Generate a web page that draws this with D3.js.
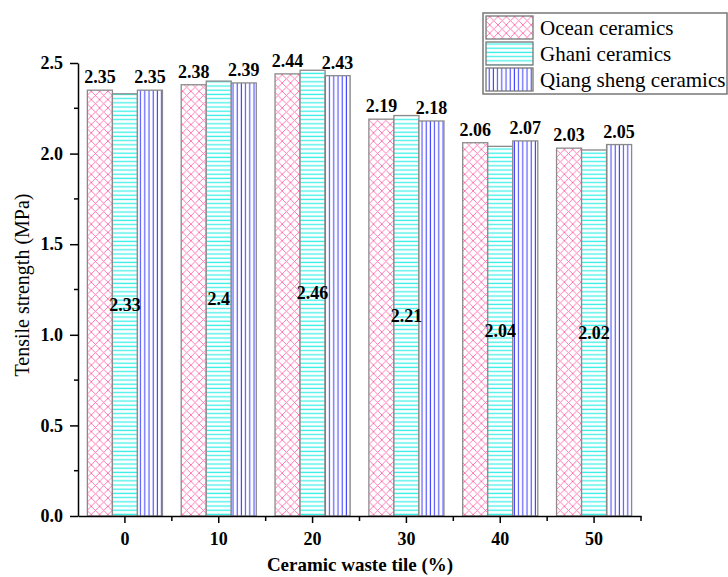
<!DOCTYPE html>
<html>
<head>
<meta charset="utf-8">
<script src="https://cdn.jsdelivr.net/npm/d3@7"></script>
<style>
    body { margin: 0; background: white; }
</style>
</head>
<body>
<svg id="chart" width="728" height="577"></svg>
<script>
const categories = ["0", "10", "20", "30", "40", "50"];
const seriesNames = ["Ocean ceramics", "Ghani ceramics", "Qiang sheng ceramics"];
const oceanValues = [2.35, 2.38, 2.44, 2.19, 2.06, 2.03];
const ghaniValues = [2.33, 2.4, 2.46, 2.21, 2.04, 2.02];
const qiangValues = [2.35, 2.39, 2.43, 2.18, 2.07, 2.05];
const yTicks = [0, 0.5, 1.0, 1.5, 2.0, 2.5];
const yMinorTicks = [0.25, 0.75, 1.25, 1.75, 2.25];

const allSeries = [oceanValues, ghaniValues, qiangValues];
const patternIds = ["pOcean", "pGhani", "pQiang"];
const serif = "'Liberation Serif', 'Times New Roman', serif";

const svg = d3.select("#chart");
const defs = svg.append("defs");

// hatch patterns
const pOcean = defs.append("pattern").attr("id", "pOcean")
    .attr("patternUnits", "userSpaceOnUse").attr("width", 8.3).attr("height", 8.3);
pOcean.append("rect").attr("width", 8.3).attr("height", 8.3).attr("fill", "white");
pOcean.append("path").attr("d", "M0,0L8.3,8.3M0,8.3L8.3,0")
    .attr("stroke", "#ff6aae").attr("stroke-width", 0.9);

const pGhani = defs.append("pattern").attr("id", "pGhani")
    .attr("patternUnits", "userSpaceOnUse").attr("width", 4.2).attr("height", 4.2);
pGhani.append("rect").attr("width", 4.2).attr("height", 4.2).attr("fill", "white");
pGhani.append("line").attr("x1", 0).attr("x2", 4.2).attr("y1", 2).attr("y2", 2)
    .attr("stroke", "#3ef0e8").attr("stroke-width", 1.3);

const pQiang = defs.append("pattern").attr("id", "pQiang")
    .attr("patternUnits", "userSpaceOnUse").attr("width", 4.2).attr("height", 4.2);
pQiang.append("rect").attr("width", 4.2).attr("height", 4.2).attr("fill", "white");
pQiang.append("line").attr("x1", 2).attr("x2", 2).attr("y1", 0).attr("y2", 4.2)
    .attr("stroke", "#4848ff").attr("stroke-width", 1.1);

const x = d3.scaleBand().domain(categories).range([78, 641]).padding(0);
const bw = x.bandwidth();
const xInner = d3.scaleBand().domain(d3.range(3)).range([bw * 0.1, bw * 0.9]).padding(0);
const y = d3.scaleLinear().domain([0, 2.5]).range([516, 63]);

// bars
allSeries.forEach((vals, s) => {
    svg.append("g")
        .selectAll("rect")
        .data(vals)
        .enter()
        .append("rect")
        .attr("x", (d, i) => x(categories[i]) + xInner(s))
        .attr("y", (d) => y(d))
        .attr("width", xInner.bandwidth())
        .attr("height", (d) => y(0) - y(d))
        .attr("fill", "url(#" + patternIds[s] + ")")
        .attr("stroke", "#8a8a8a")
        .attr("stroke-width", 1.3);
});

// value labels: ocean and qiang above the bar, ghani in middle
allSeries.forEach((vals, s) => {
    svg.append("g")
        .selectAll("text")
        .data(vals)
        .enter()
        .append("text")
        .text((d) => d)
        .attr("x", (d, i) => x(categories[i]) + xInner(s) + xInner.bandwidth() / 2)
        .attr("y", (d) => s == 1 ? (y(d) + y(0)) / 2 : y(d) - 7)
        .attr("dy", s == 1 ? "0.35em" : 0)
        .attr("font-family", serif)
        .attr("font-size", 18)
        .attr("font-weight", "bold")
        .attr("text-anchor", "middle")
        .attr("fill", "black");
});

// y axis
const yAxis = svg.append("g")
    .attr("transform", "translate(78,0)")
    .call(d3.axisLeft(y).tickValues(yTicks).tickFormat(d3.format(".1f")).tickSize(8).tickSizeOuter(0).tickPadding(7));
yAxis.attr("font-family", serif).attr("font-size", 18).attr("font-weight", "bold");
yAxis.select(".domain").attr("stroke-width", 1.5);
yAxis.selectAll(".tick line").attr("stroke-width", 1.5);
svg.append("g")
    .selectAll("line")
    .data(yMinorTicks)
    .enter()
    .append("line")
    .attr("x1", 74).attr("x2", 78)
    .attr("y1", (d) => y(d)).attr("y2", (d) => y(d))
    .attr("stroke", "black").attr("stroke-width", 1.5);

// x axis
const xAxis = svg.append("g")
    .attr("transform", "translate(0,516)")
    .call(d3.axisBottom(x).tickSize(7).tickSizeOuter(0).tickPadding(9));
xAxis.attr("font-family", serif).attr("font-size", 18).attr("font-weight", "bold");
xAxis.select(".domain").attr("stroke-width", 1.5);
xAxis.selectAll(".tick line").attr("stroke-width", 1.5);
svg.append("g")
    .selectAll("line")
    .data(categories)
    .enter()
    .append("line")
    .attr("x1", (d) => x(d) + bw).attr("x2", (d) => x(d) + bw)
    .attr("y1", 516).attr("y2", 521)
    .attr("stroke", "black").attr("stroke-width", 1.5);

// axis titles
svg.append("text")
    .text("Tensile strength (MPa)")
    .attr("transform", "translate(29,285) rotate(-90)")
    .attr("text-anchor", "middle")
    .attr("font-family", serif)
    .attr("font-size", 20);

svg.append("text")
    .text("Ceramic waste tile (%)")
    .attr("x", 360).attr("y", 571)
    .attr("text-anchor", "middle")
    .attr("font-family", serif)
    .attr("font-size", 19)
    .attr("font-weight", "bold");

// legend
const legend = svg.append("g");
legend.append("rect")
    .attr("x", 483).attr("y", 13).attr("width", 244).attr("height", 81)
    .attr("fill", "white").attr("stroke", "#777").attr("stroke-width", 1.5);
seriesNames.forEach((name, i) => {
    legend.append("rect")
        .attr("x", 486).attr("y", 16 + i * 26).attr("width", 47).attr("height", 23)
        .attr("fill", "url(#" + patternIds[i] + ")")
        .attr("stroke", "#777").attr("stroke-width", 1.3);
    legend.append("text")
        .text(name)
        .attr("x", 540).attr("y", 28 + i * 26)
        .attr("dy", "0.35em")
        .attr("font-family", serif)
        .attr("font-size", 21);
});
</script>
</body>
</html>
